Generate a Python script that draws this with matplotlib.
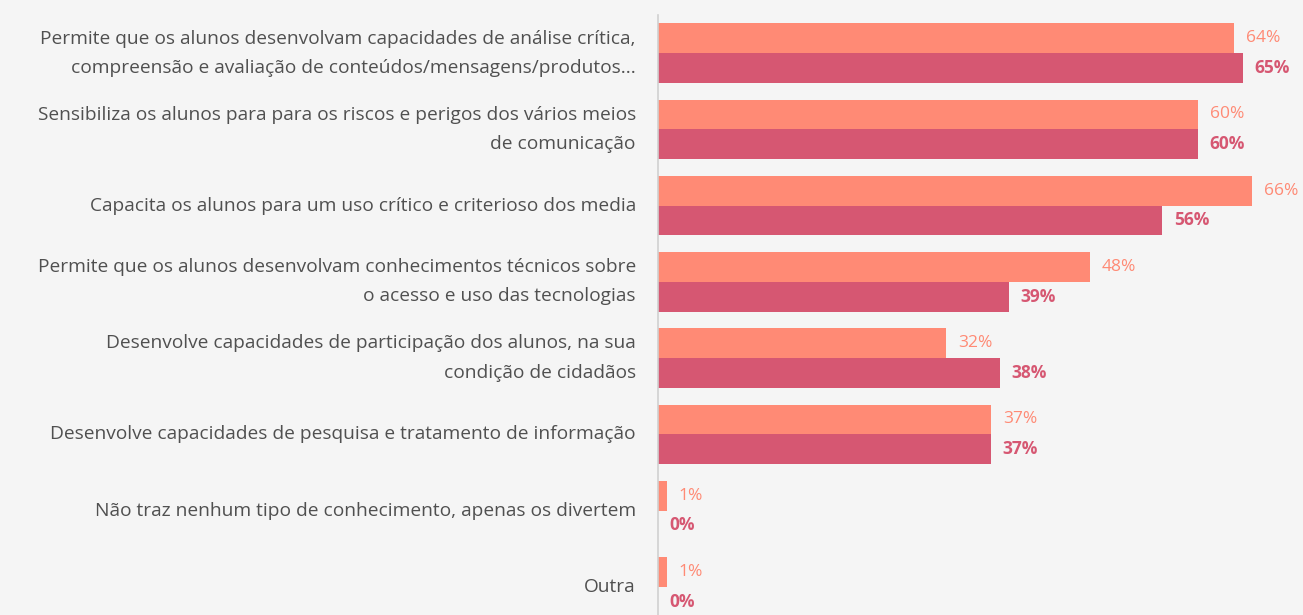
import matplotlib.pyplot as plt
import numpy as np

# categories (top to bottom)
categories = [
    "Permite que os alunos desenvolvam capacidades de análise crítica,\ncompreensão e avaliação de conteúdos/mensagens/produtos...",
    "Sensibiliza os alunos para para os riscos e perigos dos vários meios\nde comunicação",
    "Capacita os alunos para um uso crítico e criterioso dos media",
    "Permite que os alunos desenvolvam conhecimentos técnicos sobre\no acesso e uso das tecnologias",
    "Desenvolve capacidades de participação dos alunos, na sua\ncondição de cidadãos",
    "Desenvolve capacidades de pesquisa e tratamento de informação",
    "Não traz nenhum tipo de conhecimento, apenas os divertem",
    "Outra",
]
serie_a = [64, 60, 66, 48, 32, 37, 1, 1]
serie_b = [65, 60, 56, 39, 38, 37, 0, 0]

col_a = '#FF8A75'
col_b = '#D65772'
bg = '#F5F5F5'

plt.rcParams['font.family'] = ['Open Sans', 'DejaVu Sans']

fig = plt.figure(figsize=(13.03, 6.15), dpi=100, facecolor=bg)
ax = fig.add_axes([658/1303, 0, 1 - 658/1303, 1 - 15/615])
ax.set_facecolor(bg)

y = np.arange(len(categories))
h = 0.39
ax.barh(y - h/2, serie_a, height=h, color=col_a)
ax.barh(y + h/2, serie_b, height=h, color=col_b)

for i in range(len(categories)):
    ax.text(serie_a[i] + 1.3, y[i] - h/2, f"{serie_a[i]}%", va='center', ha='left',
            color=col_a, fontsize=12.5)
    ax.text(serie_b[i] + 1.3, y[i] + h/2, f"{serie_b[i]}%", va='center', ha='left',
            color=col_b, fontsize=12.5, fontweight='bold')

ax.set_xlim(0, (1303 - 658) / 9.0)
ax.set_ylim(7.37, -0.5)
ax.set_yticks(y)
ax.set_yticklabels(categories, fontsize=13.8, color='#505050', ha='right',
                   linespacing=1.8)
for lbl in ax.get_yticklabels():
    lbl.set_va('center')
ax.tick_params(axis='y', length=0, pad=16)
ax.set_xticks([])
for s in ['top', 'right', 'bottom']:
    ax.spines[s].set_visible(False)
ax.spines['left'].set_color('#D0D0D0')
ax.spines['left'].set_linewidth(1.2)

fig.savefig('out.png', dpi=100, facecolor=bg)
